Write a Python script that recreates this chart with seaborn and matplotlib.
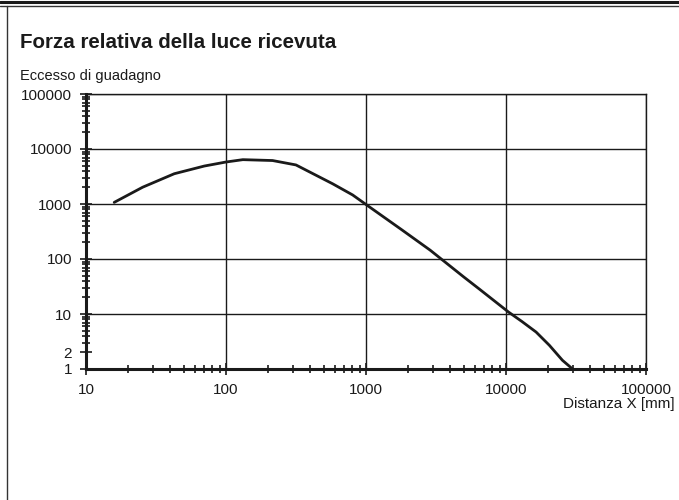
import numpy as np
import pandas as pd
import matplotlib
matplotlib.use("Agg")
import matplotlib.pyplot as plt
import seaborn as sns
from matplotlib.lines import Line2D
from matplotlib.ticker import FixedLocator, LogLocator, NullFormatter

# Daten
distanza = [15.9, 25.4, 42.7, 70, 100, 132, 215, 316, 578, 803, 1000, 1800, 2870,
            5000, 6450, 10400, 13000, 16400, 20400, 25300, 29900]
guadagno = [1070, 2020, 3550, 4900, 5800, 6400, 6170, 5130, 2330, 1460, 980,
            340, 145, 47, 28.4, 10.9, 7.3, 4.7, 2.7, 1.44, 1.0]

y_ticks = [1, 2, 10, 100, 1000, 10000, 100000]
y_labels = ["1", "2", "10", "100", "1000", "10000", "100000"]
x_ticks = [10, 100, 1000, 10000, 100000]
x_labels = ["10", "100", "1000", "10000", "100000"]

df = pd.DataFrame({"Distanza": distanza, "Guadagno": guadagno})

sns.set_style("white")
plt.rcParams["font.family"] = ["Liberation Sans", "DejaVu Sans"]

fig = plt.figure(figsize=(6.79, 5.0), dpi=100)
ax = fig.add_axes([86 / 679, 131 / 500, 560 / 679, 275 / 500])

sns.lineplot(data=df, x="Distanza", y="Guadagno", ax=ax, color="#1a1a1a",
             linewidth=2.0, sort=False)

ax.set_xscale("log")
ax.set_yscale("log")
ax.set_xlim(10, 100000)
ax.set_ylim(1, 100000)

ax.xaxis.set_major_locator(FixedLocator(x_ticks))
ax.set_xticklabels(x_labels)
ax.yaxis.set_major_locator(FixedLocator(y_ticks))
ax.set_yticklabels(y_labels)
ax.xaxis.set_minor_locator(LogLocator(base=10, subs=np.arange(2, 10), numticks=20))
ax.yaxis.set_minor_locator(LogLocator(base=10, subs=np.arange(2, 10), numticks=20))
ax.xaxis.set_minor_formatter(NullFormatter())
ax.yaxis.set_minor_formatter(NullFormatter())

ax.tick_params(which="both", direction="inout", color="#1a1a1a", width=1.2,
               labelsize=11, labelcolor="#1a1a1a", bottom=True, left=True,
               top=False, right=False)
ax.tick_params(which="major", length=8)
ax.tick_params(which="minor", length=6)
ax.tick_params(axis="x", pad=6)
ax.tick_params(axis="y", pad=6)

ax.grid(True, which="major", color="#1a1a1a", linewidth=1.0)
# keine Gitterlinie bei 2
ax.yaxis.get_gridlines()[1].set_visible(False)
for side in ["top", "right"]:
    ax.spines[side].set_linewidth(1.0)
    ax.spines[side].set_color("#1a1a1a")
for side in ["left", "bottom"]:
    ax.spines[side].set_linewidth(2.2)
    ax.spines[side].set_color("#1a1a1a")

ax.set_xlabel("")
ax.set_ylabel("")

fig.text(20 / 679, 1 - 42 / 500, "Forza relativa della luce ricevuta",
         fontsize=14.8, fontweight="bold", color="#1a1a1a", va="center", ha="left")
fig.text(20 / 679, 1 - 76 / 500, "Eccesso di guadagno", fontsize=10.5,
         color="#1a1a1a", va="center", ha="left")
fig.text(675 / 679, 1 - 404 / 500, "Distanza X [mm]", fontsize=11,
         color="#1a1a1a", va="center", ha="right")

# Rahmen
fig.add_artist(Line2D([0, 1], [1 - 1.5 / 500, 1 - 1.5 / 500], color="#1a1a1a", linewidth=2.2))
fig.add_artist(Line2D([0, 1], [1 - 5.5 / 500, 1 - 5.5 / 500], color="#333333", linewidth=1.0))
fig.add_artist(Line2D([6.5 / 679, 6.5 / 679], [0, 1 - 5.5 / 500], color="#333333", linewidth=1.0))

fig.savefig("out.png", dpi=100)
